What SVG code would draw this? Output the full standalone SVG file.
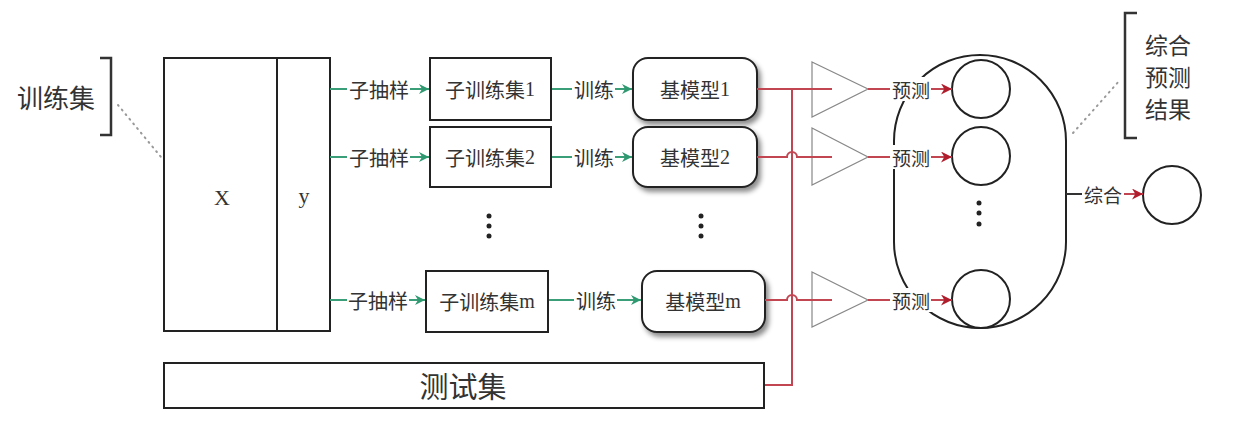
<svg xmlns="http://www.w3.org/2000/svg" width="1242" height="439" viewBox="0 0 1242 439">
<defs>
<style>
.box{fill:#fff;stroke:#222;stroke-width:2}
.t{font-family:"Noto Sans CJK SC","Noto Sans",sans-serif;fill:#333;text-anchor:middle;dominant-baseline:central}
.lat{font-family:"Liberation Serif",serif}
.g{stroke:#3a9f78;stroke-width:2;fill:none}
.r{stroke:#c24552;stroke-width:2;fill:none}
.tri{fill:#fff;stroke:#888;stroke-width:1.2}
.circ{fill:#fff;stroke:#222;stroke-width:2}
.dot{fill:#222}
.dots{stroke:#999;stroke-width:2;stroke-dasharray:1 5;stroke-linecap:round;fill:none}
.brk{stroke:#333;stroke-width:2.5;fill:none}
</style>
<marker id="ga" viewBox="0 0 10 10" refX="10" refY="5" markerWidth="10" markerHeight="10" markerUnits="userSpaceOnUse" orient="auto">
<path d="M0,0 L10,5 L0,10 L3,5 z" fill="#2f9870"/>
</marker>
<marker id="ra" viewBox="0 0 10 10" refX="10" refY="5" markerWidth="11" markerHeight="11" markerUnits="userSpaceOnUse" orient="auto">
<path d="M0,0 L10,5 L0,10 L3,5 z" fill="#b01e2e"/>
</marker>
<filter id="sh" x="-10%" y="-10%" width="130%" height="140%">
<feDropShadow dx="3" dy="4" stdDeviation="2.5" flood-color="#000" flood-opacity="0.45"/>
</filter>
</defs>
<rect width="1242" height="439" fill="#fff"/>

<g id="train-label">
<text class="t" x="56" y="96" font-size="26">训练集</text>
<path class="brk" d="M100,58 H111 V135 H100"/>
<path class="dots" d="M118,105 L161,157"/>
</g>

<g id="training-set">
<rect class="box" x="164" y="58" width="166" height="273"/>
<line x1="277" y1="58" x2="277" y2="331" stroke="#222" stroke-width="2"/>
<text class="t lat" x="222" y="197" font-size="22">X</text>
<text class="t lat" x="304" y="195" font-size="22">y</text>
</g>

<g id="subset1"><rect class="box" x="430" y="58" width="121" height="62"/><text class="t" x="490" y="89" font-size="20">子训练集<tspan class="lat">1</tspan></text></g>
<g id="subset2"><rect class="box" x="430" y="127" width="121" height="60"/><text class="t" x="490" y="157" font-size="20">子训练集<tspan class="lat">2</tspan></text></g>
<g id="subsetm"><rect class="box" x="426" y="271" width="122" height="61"/><text class="t" x="487" y="301" font-size="20">子训练集<tspan class="lat">m</tspan></text></g>

<g id="model1"><rect class="box" x="633" y="58" width="124" height="62" rx="15" filter="url(#sh)"/><text class="t" x="695" y="89" font-size="20">基模型<tspan class="lat">1</tspan></text></g>
<g id="model2"><rect class="box" x="633" y="127" width="124" height="60" rx="15" filter="url(#sh)"/><text class="t" x="695" y="157" font-size="20">基模型<tspan class="lat">2</tspan></text></g>
<g id="modelm"><rect class="box" x="642" y="271" width="123" height="61" rx="15" filter="url(#sh)"/><text class="t" x="703" y="301" font-size="20">基模型<tspan class="lat">m</tspan></text></g>

<g id="vdots1"><circle class="dot" cx="489" cy="216" r="2.5"/><circle class="dot" cx="489" cy="226" r="2.5"/><circle class="dot" cx="489" cy="236" r="2.5"/></g>
<g id="vdots2"><circle class="dot" cx="701" cy="216" r="2.5"/><circle class="dot" cx="701" cy="226" r="2.5"/><circle class="dot" cx="701" cy="236" r="2.5"/></g>

<g id="test-set">
<rect class="box" x="164" y="363" width="600" height="45"/>
<text class="t" x="463" y="385" font-size="29">测试集</text>
</g>

<g id="ensemble">
<path d="M894,141 A86,86 0 0 1 1066,141 V242 A86,86 0 0 1 894,242 Z" fill="none" stroke="#222" stroke-width="2"/>
<circle class="circ" cx="981" cy="89" r="29"/>
<circle class="circ" cx="981" cy="156" r="29"/>
<circle class="circ" cx="981" cy="299" r="29"/>
<circle class="dot" cx="979" cy="203" r="2.5"/><circle class="dot" cx="979" cy="213" r="2.5"/><circle class="dot" cx="979" cy="224" r="2.5"/>
</g>

<g id="result-label">
<path class="brk" d="M1137,13 H1125 V138 H1137"/>
<text class="t" x="1168" y="44" font-size="23">综合</text>
<text class="t" x="1168" y="76" font-size="23">预测</text>
<text class="t" x="1168" y="108" font-size="23">结果</text>
<path class="dots" d="M1073,133 L1120,80"/>
</g>

<g id="final"><circle class="circ" cx="1172" cy="195" r="29"/></g>

<g id="combiners">
<path class="tri" d="M812,62 L868,89 L812,117 Z"/>
<path class="tri" d="M812,128 L868,157 L812,185 Z"/>
<path class="tri" d="M812,272 L868,300 L812,327 Z"/>
</g>

<g id="connectors">
<line class="g" x1="330" y1="89" x2="347" y2="89"/><text class="t" x="379" y="89" font-size="20">子抽样</text><line class="g" x1="410" y1="89" x2="429" y2="89" marker-end="url(#ga)"/>
<line class="g" x1="330" y1="157" x2="347" y2="157"/><text class="t" x="379" y="157" font-size="20">子抽样</text><line class="g" x1="410" y1="157" x2="429" y2="157" marker-end="url(#ga)"/>
<line class="g" x1="330" y1="300" x2="347" y2="300"/><text class="t" x="378" y="300" font-size="20">子抽样</text><line class="g" x1="409" y1="300" x2="425" y2="300" marker-end="url(#ga)"/>
<line class="g" x1="552" y1="89" x2="572" y2="89"/><text class="t" x="594" y="89" font-size="20">训练</text><line class="g" x1="615" y1="89" x2="632" y2="89" marker-end="url(#ga)"/>
<line class="g" x1="552" y1="157" x2="572" y2="157"/><text class="t" x="594" y="157" font-size="20">训练</text><line class="g" x1="615" y1="157" x2="632" y2="157" marker-end="url(#ga)"/>
<line class="g" x1="549" y1="300" x2="574" y2="300"/><text class="t" x="596" y="300" font-size="20">训练</text><line class="g" x1="617" y1="300" x2="641" y2="300" marker-end="url(#ga)"/>
<path class="r" d="M757,89 H832"/>
<path class="r" d="M757,157 H787 A5,5 0 0 1 797,157 H832"/>
<path class="r" d="M765,300 H787 A5,5 0 0 1 797,300 H832"/>
<path class="r" d="M792,89 V385 H765"/>
<line class="r" x1="868" y1="89" x2="890" y2="89"/><rect x="890" y="77" width="42" height="24" fill="#fff"/><text class="t" x="911" y="89" font-size="19">预测</text><line class="r" x1="931" y1="89" x2="952" y2="89" marker-end="url(#ra)"/>
<line class="r" x1="868" y1="157" x2="890" y2="157"/><rect x="890" y="145" width="42" height="24" fill="#fff"/><text class="t" x="911" y="157" font-size="19">预测</text><line class="r" x1="931" y1="157" x2="952" y2="157" marker-end="url(#ra)"/>
<line class="r" x1="868" y1="300" x2="890" y2="300"/><rect x="890" y="288" width="42" height="24" fill="#fff"/><text class="t" x="911" y="300" font-size="19">预测</text><line class="r" x1="931" y1="300" x2="952" y2="300" marker-end="url(#ra)"/>
<line x1="1066" y1="194" x2="1082" y2="194" stroke="#333" stroke-width="2"/><text class="t" x="1103" y="194" font-size="19">综合</text><line class="r" x1="1124" y1="194" x2="1143" y2="194" marker-end="url(#ra)"/>
</g>
</svg>
